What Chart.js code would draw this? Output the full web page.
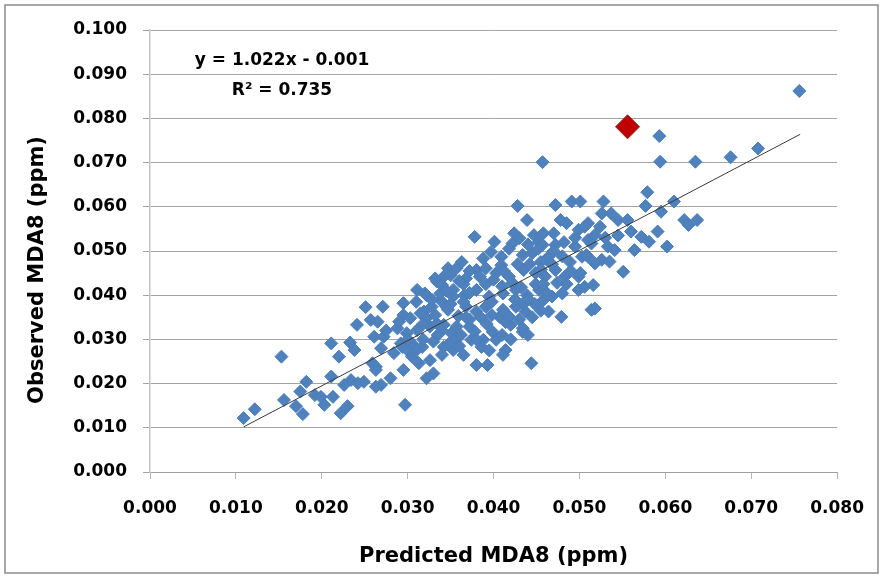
<!DOCTYPE html>
<html lang="en">
<head>
<meta charset="UTF-8">
<title>Observed vs Predicted MDA8</title>
<script src="https://cdn.jsdelivr.net/npm/chart.js"></script>
<style>
  body { margin: 0; background: #fff; }
  #scatter { display: block; }
</style>
</head>
<body>
<canvas id="scatter" width="883" height="578"></canvas>
<script>
  // predicted (x) / observed (y) MDA8, ppm
  const predicted = [
    0.0109, 0.0122, 0.0153, 0.0156, 0.0170, 0.0178, 0.0175, 0.0182, 0.0192, 0.0203,
    0.0199, 0.0211, 0.0213, 0.0222, 0.0211, 0.0220, 0.0233, 0.0226, 0.0230, 0.0234,
    0.0238, 0.0241, 0.0251, 0.0259, 0.0257, 0.0265, 0.0271, 0.0261, 0.0272, 0.0269,
    0.0263, 0.0280, 0.0295, 0.0297, 0.0292, 0.0295, 0.0295, 0.0284, 0.0303, 0.0347,
    0.0334, 0.0342, 0.0311, 0.0320, 0.0303, 0.0319, 0.0328, 0.0338, 0.0353, 0.0288,
    0.0299, 0.0311, 0.0326, 0.0342, 0.0351, 0.0269, 0.0294, 0.0305, 0.0317, 0.0330,
    0.0342, 0.0353, 0.0263, 0.0313, 0.0326, 0.0330, 0.0249, 0.0322, 0.0305, 0.0380,
    0.0393, 0.0386, 0.0414, 0.0411, 0.0399, 0.0434, 0.0242, 0.0263, 0.0444, 0.0365,
    0.0388, 0.0407, 0.0368, 0.0345, 0.0334, 0.0372, 0.0420, 0.0479, 0.0464, 0.0514,
    0.0510, 0.0428, 0.0439, 0.0472, 0.0491, 0.0501, 0.0478, 0.0485, 0.0499, 0.0510,
    0.0378, 0.0401, 0.0424, 0.0430, 0.0422, 0.0447, 0.0453, 0.0388, 0.0397, 0.0409,
    0.0434, 0.0445, 0.0464, 0.0495, 0.0503, 0.0514, 0.0357, 0.0380, 0.0391, 0.0332,
    0.0368, 0.0384, 0.0403, 0.0418, 0.0435, 0.0449, 0.0460, 0.0472, 0.0483, 0.0499,
    0.0506, 0.0322, 0.0338, 0.0353, 0.0366, 0.0380, 0.0395, 0.0411, 0.0426, 0.0439,
    0.0453, 0.0468, 0.0480, 0.0315, 0.0347, 0.0380, 0.0391, 0.0411, 0.0426, 0.0437,
    0.0357, 0.0434, 0.0457, 0.0457, 0.0579, 0.0577, 0.0610, 0.0595, 0.0528, 0.0526,
    0.0537, 0.0545, 0.0556, 0.0622, 0.0627, 0.0637, 0.0560, 0.0572, 0.0581, 0.0591,
    0.0602, 0.0564, 0.0533, 0.0541, 0.0518, 0.0506, 0.0510, 0.0526, 0.0535, 0.0551,
    0.0516, 0.0518, 0.0499, 0.0593, 0.0594, 0.0635, 0.0676, 0.0708, 0.0756, 0.0524,
    0.0508, 0.0518, 0.0501, 0.0462, 0.0340, 0.0365, 0.0391, 0.0422, 0.0449, 0.0474,
    0.0435, 0.0414, 0.0458, 0.0359, 0.0374, 0.0403, 0.0355, 0.0322, 0.0363, 0.0409,
    0.0455, 0.0489, 0.0472,
    0.0362, 0.0378, 0.0392, 0.0385, 0.0372, 0.0398, 0.0418, 0.0430, 0.0445, 0.0455,
    0.0448, 0.0425, 0.0440, 0.0462, 0.0458, 0.0432, 0.0410, 0.0400, 0.0412, 0.0428,
    0.0442, 0.0455, 0.0468, 0.0480, 0.0470, 0.0452, 0.0440, 0.0418, 0.0372, 0.0350,
    0.0360, 0.0345, 0.0372, 0.0398, 0.0365, 0.0350, 0.0332, 0.0318, 0.0340, 0.0368,
    0.0348, 0.0335, 0.0318, 0.0300, 0.0290, 0.0275, 0.0310, 0.0340, 0.0360, 0.0395,
    0.0420, 0.0440, 0.0410, 0.0380, 0.0328, 0.0310, 0.0485, 0.0490, 0.0482, 0.0495,
    0.0470, 0.0458, 0.0530, 0.0545
  ];
  const observed = [
    0.0122, 0.0142, 0.0261, 0.0163, 0.0149, 0.0131, 0.0182, 0.0204, 0.0174, 0.0152,
    0.0170, 0.0216, 0.0170, 0.0133, 0.0291, 0.0261, 0.0293, 0.0197, 0.0149, 0.0208,
    0.0276, 0.0333, 0.0373, 0.0246, 0.0344, 0.0340, 0.0374, 0.0306, 0.0306, 0.0197,
    0.0193, 0.0212, 0.0382, 0.0152, 0.0291, 0.0355, 0.0231, 0.0269, 0.0269, 0.0461,
    0.0431, 0.0442, 0.0412, 0.0404, 0.0348, 0.0363, 0.0374, 0.0389, 0.0397, 0.0325,
    0.0314, 0.0321, 0.0329, 0.0333, 0.0314, 0.0280, 0.0283, 0.0291, 0.0283, 0.0295,
    0.0283, 0.0276, 0.0238, 0.0246, 0.0253, 0.0223, 0.0204, 0.0212, 0.0261, 0.0242,
    0.0242, 0.0283, 0.0276, 0.0265, 0.0317, 0.0317, 0.0201, 0.0231, 0.0246, 0.0265,
    0.0299, 0.0351, 0.0374, 0.0374, 0.0336, 0.0329, 0.0333, 0.0351, 0.0363, 0.0367,
    0.0525, 0.0602, 0.0570, 0.0604, 0.0612, 0.0612, 0.0570, 0.0563, 0.0548, 0.0563,
    0.0532, 0.0521, 0.0540, 0.0529, 0.0517, 0.0536, 0.0521, 0.0483, 0.0498, 0.0487,
    0.0491, 0.0495, 0.0487, 0.0510, 0.0487, 0.0517, 0.0461, 0.0457, 0.0461, 0.0438,
    0.0438, 0.0442, 0.0450, 0.0442, 0.0457, 0.0450, 0.0442, 0.0457, 0.0442, 0.0412,
    0.0419, 0.0400, 0.0404, 0.0412, 0.0400, 0.0412, 0.0397, 0.0404, 0.0412, 0.0400,
    0.0412, 0.0397, 0.0404, 0.0359, 0.0367, 0.0363, 0.0374, 0.0367, 0.0374, 0.0363,
    0.0329, 0.0325, 0.0701, 0.0514, 0.0633, 0.0602, 0.0612, 0.0589, 0.0612, 0.0585,
    0.0585, 0.0570, 0.0570, 0.0570, 0.0559, 0.0570, 0.0544, 0.0532, 0.0521, 0.0544,
    0.0510, 0.0502, 0.0510, 0.0502, 0.0536, 0.0555, 0.0487, 0.0480, 0.0476, 0.0453,
    0.0423, 0.0370, 0.0442, 0.0760, 0.0702, 0.0702, 0.0712, 0.0732, 0.0862, 0.0555,
    0.0491, 0.0472, 0.0450, 0.0480, 0.0423, 0.0425, 0.0425, 0.0428, 0.0425, 0.0428,
    0.0380, 0.0339, 0.0389, 0.0353, 0.0299, 0.0299, 0.0299, 0.0348, 0.0475, 0.0468,
    0.0475, 0.0475, 0.0514,
    0.0310, 0.0318, 0.0335, 0.0350, 0.0345, 0.0355, 0.0352, 0.0345, 0.0350, 0.0365,
    0.0380, 0.0390, 0.0392, 0.0405, 0.0425, 0.0418, 0.0420, 0.0435, 0.0455, 0.0470,
    0.0470, 0.0458, 0.0470, 0.0488, 0.0500, 0.0505, 0.0515, 0.0505, 0.0455, 0.0445,
    0.0432, 0.0410, 0.0405, 0.0385, 0.0385, 0.0380, 0.0355, 0.0335, 0.0320, 0.0350,
    0.0290, 0.0310, 0.0300, 0.0300, 0.0340, 0.0320, 0.0275, 0.0265, 0.0285, 0.0275,
    0.0300, 0.0310, 0.0310, 0.0300, 0.0390, 0.0385, 0.0425, 0.0455, 0.0520, 0.0530,
    0.0540, 0.0540, 0.0530, 0.0535
  ];

  // the one highlighted day
  const outlierX = [0.0556];
  const outlierY = [0.0781];

  // linear fit drawn across the data range
  const trendX = [0.0109, 0.0757];
  const trendY = [0.0102, 0.0764];

  const xTickValues = [0.000, 0.010, 0.020, 0.030, 0.040, 0.050, 0.060, 0.070, 0.080];
  const yTickValues = [0.000, 0.010, 0.020, 0.030, 0.040, 0.050, 0.060, 0.070, 0.080, 0.090, 0.100];

  const equationLines = ["y = 1.022x - 0.001", "R² = 0.735"];
  const xTitle = "Predicted MDA8 (ppm)";
  const yTitle = "Observed MDA8 (ppm)";

  const FONT = "DejaVu Sans";

  const toPoints = (xs, ys) => xs.map((x, i) => ({ x: x, y: ys[i] }));

  // frame, fit equation and the y title
  const decor = {
    id: 'decor',
    afterDraw(chart) {
      const ctx = chart.ctx;
      const area = chart.chartArea;
      ctx.save();
      ctx.strokeStyle = '#8c8c8c';
      ctx.lineWidth = 1.5;
      ctx.strokeRect(5, 5, 873, 568);

      ctx.fillStyle = '#000';
      ctx.font = 'bold 17px "' + FONT + '"';
      ctx.textAlign = 'center';
      ctx.textBaseline = 'middle';
      ctx.fillText(equationLines[0], area.left + 132, area.top + 31);
      ctx.fillText(equationLines[1], area.left + 132, area.top + 61);

      ctx.font = 'bold 21px "' + FONT + '"';
      ctx.translate(38, 270);
      ctx.rotate(-Math.PI / 2);
      ctx.fillText(yTitle, 0, 0);
      ctx.restore();
    }
  };

  new Chart(document.getElementById("scatter"), {
    type: 'scatter',
    data: {
      datasets: [
        {
          label: 'Linear fit',
          data: toPoints(trendX, trendY),
          showLine: true,
          borderColor: '#3a3a3a',
          borderWidth: 1,
          pointRadius: 0,
          fill: false
        },
        {
          label: 'Highlighted',
          data: toPoints(outlierX, outlierY),
          pointStyle: 'rectRot',
          pointRadius: 12,
          backgroundColor: '#C00000',
          borderColor: '#7a2a2a',
          borderWidth: 1
        },
        {
          label: 'MDA8',
          data: toPoints(predicted, observed),
          pointStyle: 'rectRot',
          pointRadius: 6.5,
          backgroundColor: '#4F81BD',
          borderColor: '#4A7EBB',
          borderWidth: 1
        }
      ]
    },
    options: {
      responsive: false,
      animation: false,
      devicePixelRatio: 1,
      events: [],
      layout: { padding: { top: 30, right: 38, bottom: 0, left: 0 } },
      plugins: {
        legend: { display: false },
        tooltip: { enabled: false }
      },
      scales: {
        x: {
          type: 'linear',
          min: 0,
          max: 0.08,
          afterBuildTicks: s => { s.ticks = xTickValues.map(v => ({ value: v })); },
          afterFit: s => { s.height = 106; },
          ticks: {
            padding: 19,
            color: '#000',
            font: { family: FONT, size: 17, weight: 'bold' },
            callback: v => v.toFixed(3)
          },
          grid: { drawOnChartArea: false, drawTicks: true, tickLength: 7, color: '#b5b5b5' },
          border: { display: true, color: '#a0a0a0' },
          title: {
            display: true,
            text: xTitle,
            color: '#000',
            font: { family: FONT, size: 21, weight: 'bold' },
            padding: { top: 0, bottom: 9 }
          }
        },
        y: {
          type: 'linear',
          min: 0,
          max: 0.1,
          afterBuildTicks: s => { s.ticks = yTickValues.map(v => ({ value: v })); },
          afterFit: s => { s.width = 150; },
          ticks: {
            padding: 16,
            color: '#000',
            font: { family: FONT, size: 17, weight: 'bold' },
            callback: v => v.toFixed(3)
          },
          grid: { drawTicks: true, tickLength: 7, color: '#a3a3a3', lineWidth: 1 },
          border: { display: true, color: '#c4c4c4', width: 1.5 }
        }
      }
    },
    plugins: [decor]
  });
</script>
</body>
</html>
